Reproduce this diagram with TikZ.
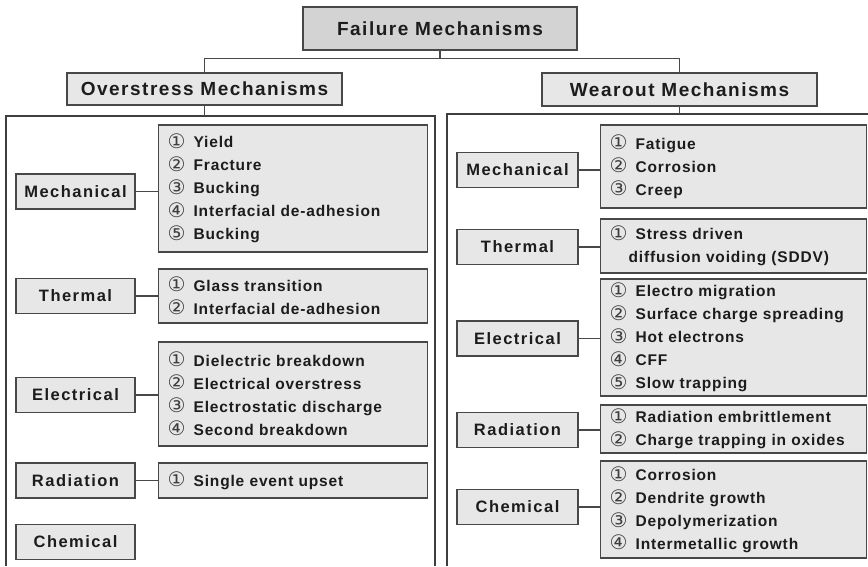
\documentclass[tikz,border=0pt]{standalone}
\usepackage{fontspec}
\usepackage{tikz}
\usetikzlibrary{positioning,calc}
\setmainfont{Liberation Sans}
\newfontfamily\headfont{Liberation Sans}[LetterSpace=8]
\newfontfamily\catfont{Liberation Sans}[LetterSpace=9]
\newfontfamily\listfont{Liberation Sans}[LetterSpace=5.5]
\newfontfamily\numfont{DejaVu Sans}
\definecolor{ink}{HTML}{1C1C1C}
\definecolor{edge}{HTML}{484848}
\definecolor{headfill}{HTML}{D3D3D3}
\definecolor{boxfill}{HTML}{E7E7E7}
% circled number in front of each list entry
\newcommand{\nr}[1]{\makebox[26pt][l]{\raisebox{-0.5pt}{\numfont\mdseries\fontsize{20}{23}\selectfont\color{ink!85}#1}}}

\begin{document}
\begin{tikzpicture}[x=1pt,y=-1pt,
  every node/.style={text=ink},
  head/.style={draw=edge,line width=1.4pt,fill=headfill,inner sep=0pt,
    font={\headfont\bfseries\fontsize{19}{23}\selectfont}},
  sub/.style={head,fill=boxfill,minimum width=275pt},
  cat/.style={draw=edge,line width=1.2pt,fill=boxfill,inner sep=0pt,
    minimum height=35pt,font={\catfont\bfseries\fontsize{16.5}{20}\selectfont}},
  list/.style={draw=edge,line width=1.2pt,fill=boxfill,anchor=west,
    inner xsep=9pt,inner ysep=0pt,text width=251pt,align=left,
    font={\listfont\bfseries\fontsize{15.5}{23}\selectfont}},
  rlist/.style={list,text width=248pt},
  conn/.style={draw=edge,line width=1.2pt},
  frame/.style={draw=ink!85,line width=1.6pt}]
  \useasboundingbox (0,0) rectangle (868,566);

  % tree head
  \node[head,minimum width=274pt,minimum height=43pt] (top) at (440,28.5) {Failure Mechanisms};
  \node[sub,minimum height=32pt] (over) at (204.5,89) {Overstress Mechanisms};
  \node[sub,minimum height=33pt] (wear) at (679.5,89.5) {Wearout Mechanisms};
  \draw[conn] (top.south) -- ++(0,8) coordinate (split);
  \draw[conn] (over.north) |- (split) -| (wear.north);

  % the two frames, open at the bottom
  \coordinate (lframe) at (6,116);
  \coordinate (rframe) at (447,114);
  \draw[frame] (6,566) -- (lframe) -- (435,116) -- (435,566);
  \draw[frame] (447,566) -- (rframe) -- (868,114);
  \draw[conn] (over.south) -- (over.south |- lframe);
  \draw[conn] (wear.south) -- (wear.south |- rframe);

  % category boxes
  \foreach \n/\y/\t in {oMech/191.5/Mechanical,oTherm/296/Thermal,oElec/395/Electrical,
                        oRad/480.5/Radiation,oChem/542/Chemical}
     {\node[cat,minimum width=119pt] (\n) at (75.5,\y) {\t};}
  \foreach \n/\y/\t in {wMech/170/Mechanical,wTherm/247/Thermal,wElec/338.5/Electrical,
                        wRad/430/Radiation,wChem/507/Chemical}
     {\node[cat,minimum width=121pt] (\n) at (517.5,\y) {\t};}

  % overstress lists
  \node[list,minimum height=127pt] (oMech-list) at (158,188.5)
    {\nr{①}Yield\\ \nr{②}Fracture\\ \nr{③}Bucking\\ \nr{④}Interfacial de-adhesion\\ \nr{⑤}Bucking};
  \node[list,minimum height=54pt] (oTherm-list) at (158,296)
    {\nr{①}Glass transition\\ \nr{②}Interfacial de-adhesion};
  \node[list,minimum height=104pt] (oElec-list) at (158,394)
    {\nr{①}Dielectric breakdown\\ \nr{②}Electrical overstress\\ \nr{③}Electrostatic discharge\\ \nr{④}Second breakdown};
  \node[list,minimum height=35pt] (oRad-list) at (158,480.5)
    {\nr{①}Single event upset};

  % wearout lists
  \node[rlist,minimum height=83pt] (wMech-list) at (600,166.5)
    {\nr{①}Fatigue\\ \nr{②}Corrosion\\ \nr{③}Creep};
  \node[rlist,minimum height=54pt] (wTherm-list) at (600,246)
    {\nr{①}Stress driven\\ \hspace*{19pt}diffusion voiding (SDDV)};
  \node[rlist,minimum height=117pt] (wElec-list) at (600,337.5)
    {\nr{①}Electro migration\\ \nr{②}Surface charge spreading\\ \nr{③}Hot electrons\\ \nr{④}CFF\\ \nr{⑤}Slow trapping};
  \node[rlist,minimum height=48pt] (wRad-list) at (600,429)
    {\nr{①}Radiation embrittlement\\ \nr{②}Charge trapping in oxides};
  \node[rlist,minimum height=97pt] (wChem-list) at (600,509.5)
    {\nr{①}Corrosion\\ \nr{②}Dendrite growth\\ \nr{③}Depolymerization\\ \nr{④}Intermetallic growth};

  \foreach \n in {oMech,oTherm,oElec,oRad,wMech,wTherm,wElec,wRad,wChem}
     {\draw[conn] (\n.east) -- (\n.east -| \n-list.west);}
\end{tikzpicture}
\end{document}
